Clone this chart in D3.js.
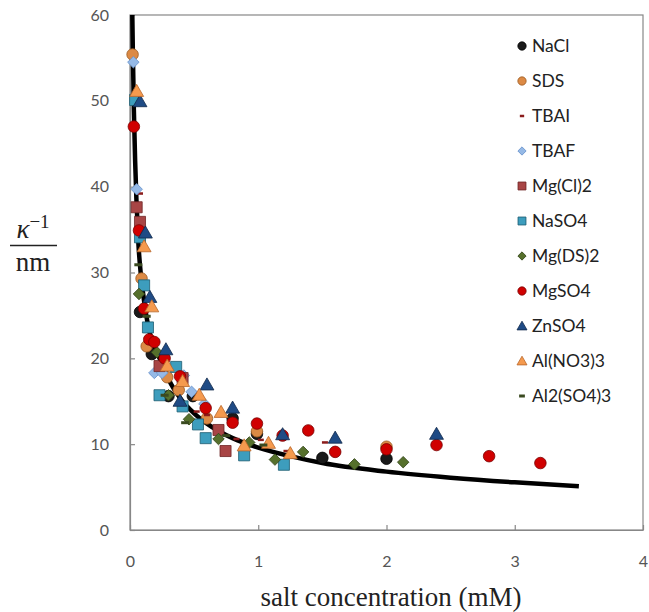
<!DOCTYPE html>
<html><head><meta charset="utf-8">
<script src="https://cdn.jsdelivr.net/npm/d3@7"></script>
<style>body{margin:0;background:#fff}svg{display:block}</style>
</head><body>
<script>
// ---- data ----
const seriesNames = ["NaCl","SDS","TBAI","TBAF","Mg(Cl)2","NaSO4","Mg(DS)2","MgSO4","ZnSO4","Al(NO3)3","Al2(SO4)3"];
const NaCl = [[0.078,25.4],[0.17,20.5],[0.3,15.6],[0.49,15.6],[0.8,13.0],[0.99,11.2],[1.5,8.4],[2.0,8.3]];
const SDS = [[0.02,55.4],[0.09,29.3],[0.13,21.4],[0.29,17.8],[0.38,16.3],[0.6,13.0],[0.99,11.5],[2.0,9.7]];
const TBAI = [[0.078,39.2],[0.52,13.8],[0.6,13.4],[0.83,10.6],[1.02,10.5],[1.22,9.2],[1.52,10.2]];
const TBAF = [[0.026,54.5],[0.052,39.7],[0.19,18.3],[0.25,18.3],[0.42,18.0],[0.48,16.1],[0.58,14.7]];
const MgCl2 = [[0.052,37.6],[0.078,35.9],[0.23,19.1],[0.41,17.7],[0.69,11.65],[0.745,9.2]];
const NaSO4 = [[0.04,50.1],[0.078,34.1],[0.11,28.5],[0.14,23.6],[0.23,15.7],[0.36,19.0],[0.41,14.4],[0.53,12.3],[0.59,10.7],[0.89,8.7],[1.2,7.6]];
const MgDS2 = [[0.07,27.5],[0.21,20.7],[0.3,15.7],[0.46,12.9],[0.69,10.6],[0.93,10.2],[1.13,8.2],[1.35,9.1],[1.75,7.65],[2.13,7.9]];
const MgSO4 = [[0.03,47.0],[0.07,34.9],[0.11,25.8],[0.15,22.2],[0.19,21.9],[0.27,20.0],[0.39,17.9],[0.59,14.2],[0.8,12.5],[0.99,12.4],[1.19,11.0],[1.39,11.6],[1.6,9.1],[2.0,9.4],[2.39,9.9],[2.8,8.6],[3.2,7.8]];
const ZnSO4 = [[0.078,49.9],[0.12,34.6],[0.155,27.1],[0.28,21.0],[0.39,15.0],[0.6,16.9],[0.8,14.2],[1.19,11.1],[1.6,10.7],[2.39,11.15]];
const AlNO33 = [[0.052,51.1],[0.11,33.0],[0.17,26.0],[0.29,19.1],[0.41,17.3],[0.54,15.7],[0.71,13.7],[0.89,9.8],[1.08,10.1],[1.25,8.9]];
const Al2SO43 = [[0.065,30.9],[0.13,24.9],[0.27,15.7],[0.43,12.5],[0.75,11.0],[1.04,9.9]];
const curve = [[0.018,60],[0.022,56],[0.03,49],[0.04,43],[0.05,38.5],[0.065,33.5],[0.083,30],[0.1,27.8],[0.15,23.2],[0.2,21.0],[0.25,19.4],[0.3,17.6],[0.4,15.2],[0.5,13.6],[0.6,12.4],[0.8,10.7],[1.0,9.6],[1.25,8.6],[1.5,7.8],[2.0,6.8],[2.5,6.1],[3.0,5.55],[3.5,5.1]];
const xTicks = [0,1,2,3,4];
const yTicks = [0,10,20,30,40,50,60];

const seriesData = [NaCl,SDS,TBAI,TBAF,MgCl2,NaSO4,MgDS2,MgSO4,ZnSO4,AlNO33,Al2SO43];
const styles = [
  {shape:"circle", fill:"#1a1a1a", stroke:"#000"},
  {shape:"circle", fill:"#dc8a45", stroke:"#9a5a22"},
  {shape:"dash", fill:"#8b1c1c", w:6, h:2.5},
  {shape:"diamond", fill:"#95b9e6", stroke:"#6a94cc"},
  {shape:"square", fill:"#a84545", stroke:"#6e2626"},
  {shape:"square", fill:"#3d9dbd", stroke:"#1d5c70"},
  {shape:"diamond", fill:"#56702c", stroke:"#34461a"},
  {shape:"circle", fill:"#d00000", stroke:"#7a0000"},
  {shape:"triangle", fill:"#1f4b85", stroke:"#10284a"},
  {shape:"triangle", fill:"#f59a4e", stroke:"#b8662a"},
  {shape:"dash", fill:"#3a4a20", w:8, h:3}
];

const W=649,H=612;
const m={left:130,right:643,top:15,bottom:530};
const svg=d3.select("body").append("svg").attr("width",W).attr("height",H);
const x=d3.scaleLinear().domain([0,4]).range([m.left,m.right]);
const y=d3.scaleLinear().domain([0,60]).range([m.bottom,m.top]);
const axisColor="#878787";

// frame
svg.append("rect").attr("x",m.left).attr("y",m.top).attr("width",m.right-m.left).attr("height",m.bottom-m.top)
  .attr("fill","none").attr("stroke",axisColor).attr("stroke-width",1.2);

// axes
const ax=svg.append("g").attr("transform",`translate(0,${m.bottom})`)
  .call(d3.axisBottom(x).tickValues(xTicks).tickSizeInner(-5).tickSizeOuter(0).tickPadding(26).tickFormat(d3.format("d")));
const ay=svg.append("g").attr("transform",`translate(${m.left},0)`)
  .call(d3.axisLeft(y).tickValues(yTicks).tickSizeInner(-5).tickSizeOuter(0).tickPadding(21).tickFormat(d3.format("d")));
[ax,ay].forEach(g=>{
  g.select(".domain").attr("stroke",axisColor).attr("stroke-width",1.2);
  g.selectAll(".tick line").attr("stroke",axisColor).attr("stroke-width",1.2);
  g.selectAll(".tick text").attr("fill","#555").style("font-family","Lato, 'Open Sans', sans-serif").style("font-size","16px");
});

// fitted curve
svg.append("path").datum(curve)
  .attr("d",d3.line().x(d=>x(d[0])).y(d=>y(d[1])).curve(d3.curveMonotoneX))
  .attr("fill","none").attr("stroke","#000").attr("stroke-width",4.5);

function drawMarker(g,st,cx,cy,scale){
  if(st.shape==="dash"){
    g.append("rect").attr("x",cx-st.w*scale/2).attr("y",cy-st.h/2).attr("width",st.w*scale).attr("height",st.h).attr("fill",st.fill);
    return;
  }
  let sym, size, rot=0;
  if(st.shape==="circle"){sym=d3.symbolCircle;size=105;}
  else if(st.shape==="square"){sym=d3.symbolSquare;size=122;}
  else if(st.shape==="diamond"){sym=d3.symbolSquare;size=66;rot=45;}
  else {sym=d3.symbolTriangle;size=84;}
  g.append("path").attr("d",d3.symbol().type(sym).size(size*scale*scale)())
    .attr("transform",`translate(${cx},${cy+(st.shape==="triangle"?1:0)}) rotate(${rot})`)
    .attr("fill",st.fill).attr("stroke",st.stroke).attr("stroke-width",0.8);
}

// points
const pts=svg.append("g");
seriesData.forEach((data,i)=>{
  const g=pts.append("g").attr("class","series");
  data.forEach(d=>drawMarker(g,styles[i],x(d[0]),y(d[1]),1));
});

// legend
const lg=svg.append("g");
seriesNames.forEach((n,i)=>{
  const cy=46+i*35;
  drawMarker(lg,styles[i],522,cy,0.72);
  lg.append("text").attr("x",532).attr("y",cy+6).text(n)
    .attr("fill","#222").style("font-family","Lato, 'Open Sans', sans-serif").style("font-size","17.5px");
});

// axis titles
svg.append("text").attr("x",391).attr("y",606).attr("text-anchor","middle")
  .style("font-family","'Liberation Serif','Times New Roman',serif").style("font-size","27px").attr("fill","#222")
  .text("salt concentration (mM)");
const yl=svg.append("g");
const kt=yl.append("text").attr("x",33).attr("y",238).attr("text-anchor","middle")
  .style("font-family","'Liberation Serif','Times New Roman',serif").attr("fill","#222");
kt.append("tspan").style("font-style","italic").style("font-size","27px").text("κ");
kt.append("tspan").attr("dy",-10).style("font-size","19px").text("−1");
yl.append("line").attr("x1",10).attr("x2",57).attr("y1",245.5).attr("y2",245.5).attr("stroke","#222").attr("stroke-width",1.3);
yl.append("text").attr("x",33).attr("y",271).attr("text-anchor","middle")
  .style("font-family","'Liberation Serif','Times New Roman',serif").style("font-size","27px").attr("fill","#222").text("nm");
</script>
</body></html>
